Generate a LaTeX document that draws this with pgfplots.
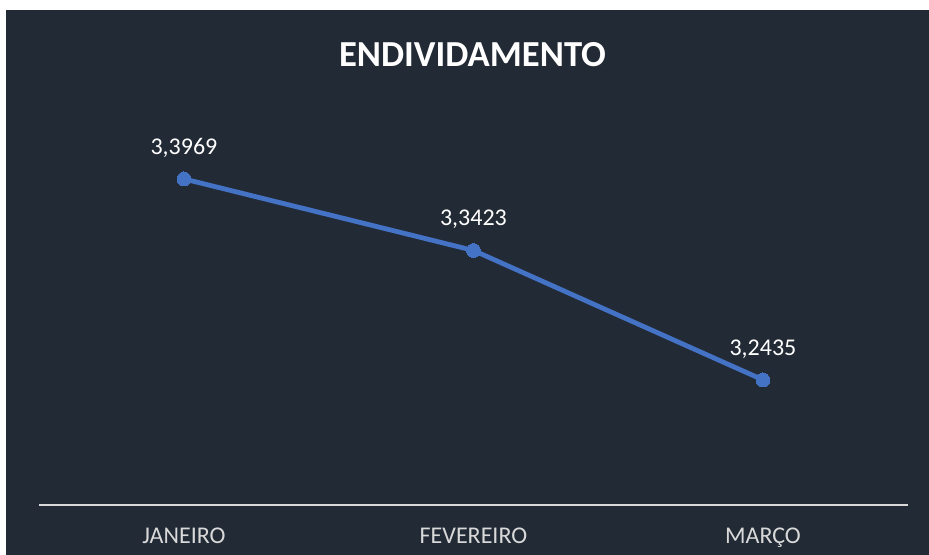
\documentclass[border=0pt]{standalone}
\usepackage{fontspec}
\setmainfont{Carlito}
\usepackage{pgfplots}
\pgfplotsset{compat=1.18}
\definecolor{bgDark}{HTML}{222A35}
\definecolor{lineBlue}{HTML}{4472C4}
\definecolor{axGray}{HTML}{D9D9D9}

\begin{document}
\begin{tikzpicture}
  % 1 px of the reference = 0.75pt
  \begin{scope}[x=0.75pt, y=0.75pt]
    \fill[white] (0,0) rectangle (929,555);
    \fill[bgDark] (6,0) rectangle (929,545);
    \node[anchor=base, text=white, font=\fontsize{27.5}{33}\selectfont\bfseries]
      at (472.5,488) {ENDIVIDAMENTO};
  \end{scope}
  \begin{axis}[
    at={(29.4pt,37.5pt)}, anchor=south west,
    scale only axis,
    width=651.4pt, height=294.75pt,
    xmin=-0.5, xmax=2.5,
    ymin=3.148, ymax=3.448,
    axis y line=none,
    axis x line*=bottom,
    x axis line style={draw=axGray, line width=1.1pt, -},
    xtick={0,1,2},
    xticklabels={JANEIRO, FEVEREIRO, MARÇO},
    major tick length=0pt,
    xticklabel style={font=\fontsize{18}{21}\selectfont, text=axGray,
      anchor=base, yshift=-29.25pt},
    clip=false,
    nodes near coords={\pgfmathprintnumber[fixed, fixed zerofill, precision=4,
      use comma, assume math mode=true]{\pgfplotspointmeta}},
    nodes near coords style={font=\fontsize{18}{21}\selectfont, text=white,
      anchor=base, yshift=18.5pt},
  ]
  \addplot[color=lineBlue, line width=3.6pt, mark=*, mark size=5.2pt,
    mark options={fill=lineBlue, draw=lineBlue, line width=0pt}]
    coordinates {
    (0, 3.3969)
    (1, 3.3423)
    (2, 3.2435)
  };
  \end{axis}
\end{tikzpicture}
\end{document}
